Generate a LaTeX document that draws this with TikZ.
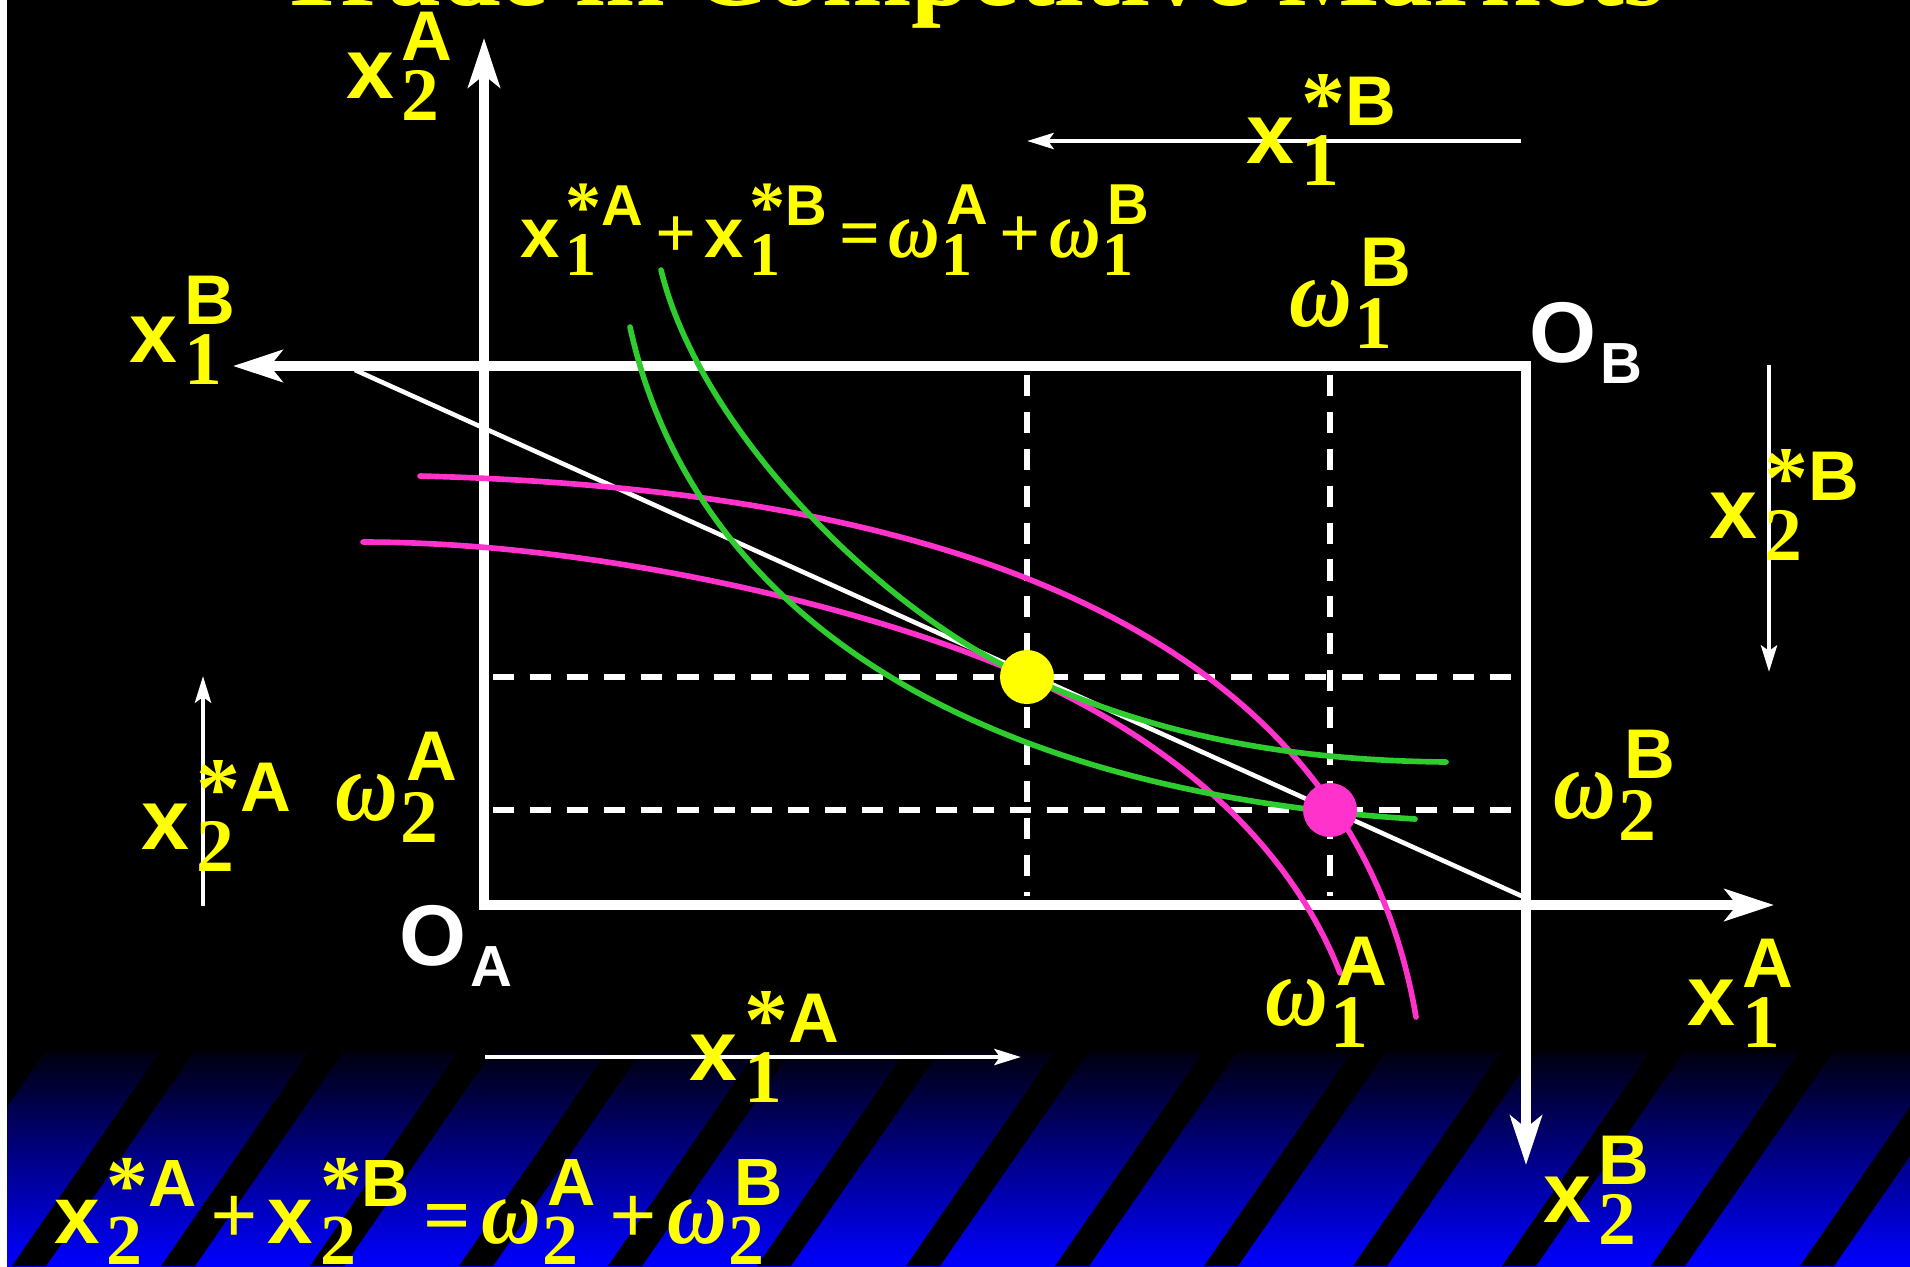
\documentclass[tikz,border=0pt]{standalone}
\usepackage{fontspec}
\usepackage{graphicx}
\usepackage{tikz}
\usetikzlibrary{arrows.meta,calc}
\setmainfont{Liberation Serif}
\newfontfamily\sansfam{Liberation Sans}
\newfontfamily\seriffam{Liberation Serif}
\definecolor{yel}{RGB}{255,255,0}
\definecolor{mag}{RGB}{255,51,204}
\definecolor{grn}{RGB}{46,204,46}
\definecolor{bandtop}{RGB}{0,0,16}
\definecolor{bandbot}{RGB}{0,0,255}
% fonts for the labels
\newcommand{\bigsf}{\sansfam\bfseries\fontsize{24.5}{26}\selectfont}
\newcommand{\supsf}{\sansfam\bfseries\fontsize{20}{22}\selectfont}
\newcommand{\subrm}{\seriffam\bfseries\fontsize{21.5}{23}\selectfont}
\newcommand{\oprm}{\seriffam\bfseries\fontsize{25}{27}\selectfont}
\newcommand{\osub}{\sansfam\bfseries\fontsize{16.5}{18}\selectfont}
\newcommand{\st}{\raisebox{-2pt}{\seriffam\fontsize{25}{27}\selectfont *}}
\newcommand{\omg}{{\seriffam\bfseries\itshape\fontsize{28}{30}\selectfont\scalebox{0.88}[1]{ω}}}
\newcommand{\xlab}[2]{{\bigsf x}\kern2pt\rlap{\raisebox{-6.3pt}{\subrm #1}}\raisebox{10.8pt}{\supsf #2}}
\newcommand{\wlab}[2]{\omg\kern0.5pt\rlap{\raisebox{-6.3pt}{\subrm #1}}\kern1.7pt\raisebox{11.2pt}{\supsf #2}}
\newcommand{\olab}[1]{{\bigsf O}\kern1.2pt\raisebox{-6.2pt}{\osub #1}}
\newcommand{\op}[1]{\kern4pt{\oprm #1}\kern3pt}

\begin{document}
\begin{tikzpicture}[x=0.01cm, y=-0.01cm,
  boxaxis/.style={white, line width=2.8pt, line cap=rect, -{Stealth[length=14pt,width=9pt,inset=3.5pt]}},
  dashguide/.style={white, line width=1.6pt, dash pattern=on 6pt off 4.5pt, shorten <=2.5pt, shorten >=2.5pt},
  budget/.style={white, line width=1.3pt},
  icurve/.style={line width=1.6pt, line cap=round},
  shiftarrow/.style={white, line width=1.4pt, -{Stealth[length=7.5pt,width=4.5pt,inset=1.5pt]}},
  dot/.style={circle, minimum size=0.54cm, inner sep=0pt},
  lbl/.style={anchor=base west, inner sep=0pt, text=yel}]
\useasboundingbox (0,0) rectangle (1910,1266);
% background and striped band
\fill[white] (0,0) rectangle (1910,1266);
\fill[black] (7,0) rectangle (1910,1266);
\shade[top color=bandtop, bottom color=bandbot] (7,1052) rectangle (1910,1266);
\begin{scope}
  \clip (7,1040) rectangle (1910,1266);
  \foreach \k in {-1,...,12}
    \fill[black] ({164+149*\k},1046) -- ++(34,0) -- ++(-152,220) -- ++(-34,0) -- cycle;
\end{scope}
\node[anchor=base, inner sep=0pt, text=yel, font=\seriffam\bfseries\fontsize{30.5}{32}\selectfont] (title) at (971,5) {Trade in Competitive Markets};

% box corners and points
\coordinate (OA) at (484,905);
\coordinate (OB) at (1526,366);
\coordinate (Atop) at (484,38);
\coordinate (Aright) at (1774,905);
\coordinate (Bleft) at (233,366);
\coordinate (Bbot) at (1526,1165);
\coordinate (E) at (1027,677);
\coordinate (W) at (1330,810);
\draw[boxaxis] (OA) -- (Atop);
\draw[boxaxis] (OA) -- (Aright);
\draw[boxaxis] (OB) -- (Bleft);
\draw[boxaxis] (OB) -- (Bbot);

\draw[dashguide] (E |- OB) -- (E |- OA);
\draw[dashguide] (W |- OB) -- (W |- OA);
\draw[dashguide] (OA |- E) -- (OB |- E);
\draw[dashguide] (OA |- W) -- (OB |- W);

\coordinate (bl1) at (355,370);
\coordinate (bl2) at (1526,898);
\draw[budget] (bl1) -- (bl2);

% indifference curves
\draw[icurve, mag] (420,476) .. controls (1050,492) and (1360,687) .. (1416,1017);
\draw[icurve, mag] (363,542) .. controls (600,542) and (880,610) .. (E) .. controls (1140,727) and (1280,820) .. (1340,973);
\draw[icurve, grn] (661,270) .. controls (700,430) and (880,610) .. (E) .. controls (1130,722) and (1250,760) .. (1446,762);
\draw[icurve, grn] (630,327) .. controls (690,600) and (950,790) .. (1415,819);

\node[dot, fill=yel] (eq) at (E) {};
\node[dot, fill=mag] (endow) at (W) {};

% net trades
\coordinate (ta1) at (485,1057);
\coordinate (ta2) at (1021,1057);
\coordinate (tb1) at (1521,141);
\coordinate (tb2) at (1027,141);
\coordinate (tc1) at (203,906);
\coordinate (tc2) at (203,676);
\coordinate (td1) at (1769,365);
\coordinate (td2) at (1769,672);
\draw[shiftarrow] (ta1) -- (ta2);
\draw[shiftarrow] (tb1) -- (tb2);
\draw[shiftarrow] (tc1) -- (tc2);
\draw[shiftarrow] (td1) -- (td2);

% labels
\node[lbl] (lx2A) at (346,98) {\xlab{2}{A}};
\node[lbl] (lx1sB) at (1246,163) {\xlab{1}{\st B}};
\node[lbl] (topeq) at (520,257) {\scalebox{0.82}{\xlab{1}{\st A}\op{+}\xlab{1}{\st B}\op{=}\wlab{1}{A}\op{+}\wlab{1}{B}}};
\node[lbl] (lw1B) at (1289,326) {\wlab{1}{B}};
\node[lbl] (lx1B) at (129,362) {\xlab{1}{B}};
\node[lbl, text=white] (lOB) at (1529,362) {\olab{B}};
\node[lbl] (lx2sB) at (1709,538) {\xlab{2}{\st B}};
\node[lbl] (lx2sA) at (141,849) {\xlab{2}{\st A}};
\node[lbl] (lw2A) at (335,820) {\wlab{2}{A}};
\node[lbl] (lw2B) at (1553,818) {\wlab{2}{B}};
\node[lbl, text=white] (lOA) at (399,965) {\olab{A}};
\node[lbl] (lw1A) at (1265,1025) {\wlab{1}{A}};
\node[lbl] (lx1A) at (1687,1025) {\xlab{1}{A}};
\node[lbl] (lx1sA) at (689,1080) {\xlab{1}{\st A}};
\node[lbl] (boteq) at (54,1243) {\scalebox{0.95}{\xlab{2}{\st A}\op{+}\xlab{2}{\st B}\op{=}\wlab{2}{A}\op{+}\wlab{2}{B}}};
\node[lbl] (lx2B) at (1543,1222) {\xlab{2}{B}};
\end{tikzpicture}
\end{document}
